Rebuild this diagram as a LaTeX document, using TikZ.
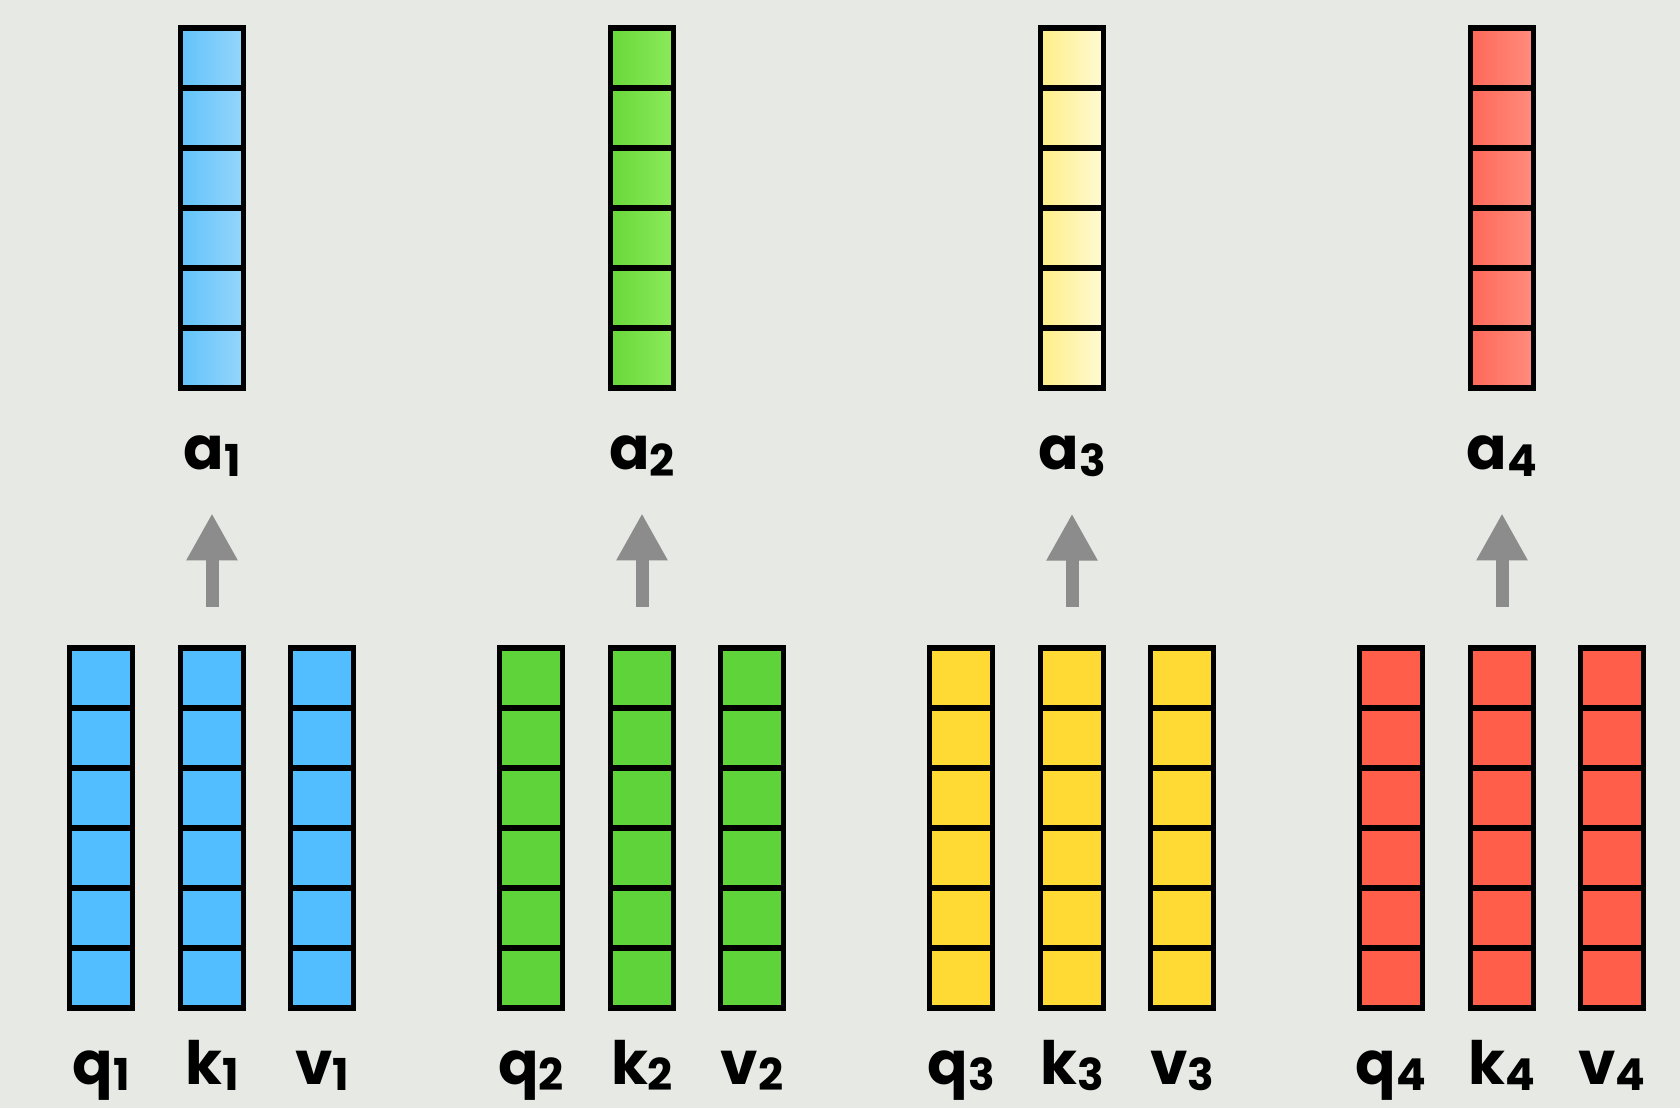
\documentclass[tikz,border=0pt]{standalone}
\usepackage{fontspec}
\setmainfont{Poppins}
\usetikzlibrary{positioning, arrows.meta, calc}
\definecolor{bgcolor}{RGB}{231,234,228}
\definecolor{arrowgray}{RGB}{140,140,140}
\definecolor{blueB}{RGB}{83,190,255}
\definecolor{blueL}{RGB}{98,194,250}
\definecolor{blueR}{RGB}{148,214,252}
\definecolor{greenB}{RGB}{94,212,58}
\definecolor{greenL}{RGB}{104,216,58}
\definecolor{greenR}{RGB}{140,234,90}
\definecolor{yellowB}{RGB}{255,217,52}
\definecolor{yellowL}{RGB}{255,238,135}
\definecolor{yellowR}{RGB}{255,250,212}
\definecolor{redB}{RGB}{255,94,74}
\definecolor{redL}{RGB}{255,104,88}
\definecolor{redR}{RGB}{255,140,125}
\newcommand{\idx}[1]{\raisebox{-0.2ex}{\fontsize{12.5}{12.5}\selectfont #1}}

\begin{document}
\begin{tikzpicture}[
    col/.style={draw, line width=1.5pt, inner sep=0pt, outer sep=0pt,
        minimum width=0.63cm, minimum height=3.6cm,
        path picture={
            \foreach \j in {1,...,5}
                \draw[line width=1.5pt]
                    ($(path picture bounding box.south west)!\j/6!(path picture bounding box.north west)$) --
                    ($(path picture bounding box.south east)!\j/6!(path picture bounding box.north east)$);
        }},
    lab/.style={font=\fontsize{17}{20}\selectfont\bfseries, inner sep=0pt, anchor=base},
    uparrow/.style={draw=arrowgray, line width=0.13cm, -{Triangle[length=0.47cm, width=0.48cm]},
        shorten <=0.41cm, shorten >=0.36cm}
]

    % background
    \fill[bgcolor] (0,0) rectangle (16.8,11.08);

    % group 1
    \node[col, fill=blueB] (k1) at (2.12,2.8) {};
    \node[col, fill=blueB, left=0.48cm of k1] (q1) {};
    \node[col, fill=blueB, right=0.47cm of k1] (v1) {};
    \node[col, left color=blueL, right color=blueR, above=2.6cm of k1] (a1) {};
    \node[lab] (lq1) at ([yshift=-0.76cm]q1.south) {q\idx{1}};
    \node[lab] (lk1) at ([yshift=-0.76cm]k1.south) {k\idx{1}};
    \node[lab] (lv1) at ([yshift=-0.76cm]v1.south) {v\idx{1}};
    \node[lab] (la1) at ([yshift=-0.82cm]a1.south) {a\idx{1}};
    \draw[uparrow] (k1.north) -- (la1.south);

    % group 2
    \node[col, fill=greenB] (k2) at (6.42,2.8) {};
    \node[col, fill=greenB, left=0.48cm of k2] (q2) {};
    \node[col, fill=greenB, right=0.47cm of k2] (v2) {};
    \node[col, left color=greenL, right color=greenR, above=2.6cm of k2] (a2) {};
    \node[lab] (lq2) at ([yshift=-0.76cm]q2.south) {q\idx{2}};
    \node[lab] (lk2) at ([yshift=-0.76cm]k2.south) {k\idx{2}};
    \node[lab] (lv2) at ([yshift=-0.76cm]v2.south) {v\idx{2}};
    \node[lab] (la2) at ([yshift=-0.82cm]a2.south) {a\idx{2}};
    \draw[uparrow] (k2.north) -- (la2.south);

    % group 3
    \node[col, fill=yellowB] (k3) at (10.72,2.8) {};
    \node[col, fill=yellowB, left=0.48cm of k3] (q3) {};
    \node[col, fill=yellowB, right=0.47cm of k3] (v3) {};
    \node[col, left color=yellowL, right color=yellowR, above=2.6cm of k3] (a3) {};
    \node[lab] (lq3) at ([yshift=-0.76cm]q3.south) {q\idx{3}};
    \node[lab] (lk3) at ([yshift=-0.76cm]k3.south) {k\idx{3}};
    \node[lab] (lv3) at ([yshift=-0.76cm]v3.south) {v\idx{3}};
    \node[lab] (la3) at ([yshift=-0.82cm]a3.south) {a\idx{3}};
    \draw[uparrow] (k3.north) -- (la3.south);

    % group 4
    \node[col, fill=redB] (k4) at (15.02,2.8) {};
    \node[col, fill=redB, left=0.48cm of k4] (q4) {};
    \node[col, fill=redB, right=0.47cm of k4] (v4) {};
    \node[col, left color=redL, right color=redR, above=2.6cm of k4] (a4) {};
    \node[lab] (lq4) at ([yshift=-0.76cm]q4.south) {q\idx{4}};
    \node[lab] (lk4) at ([yshift=-0.76cm]k4.south) {k\idx{4}};
    \node[lab] (lv4) at ([yshift=-0.76cm]v4.south) {v\idx{4}};
    \node[lab] (la4) at ([yshift=-0.82cm]a4.south) {a\idx{4}};
    \draw[uparrow] (k4.north) -- (la4.south);

\end{tikzpicture}
\end{document}
